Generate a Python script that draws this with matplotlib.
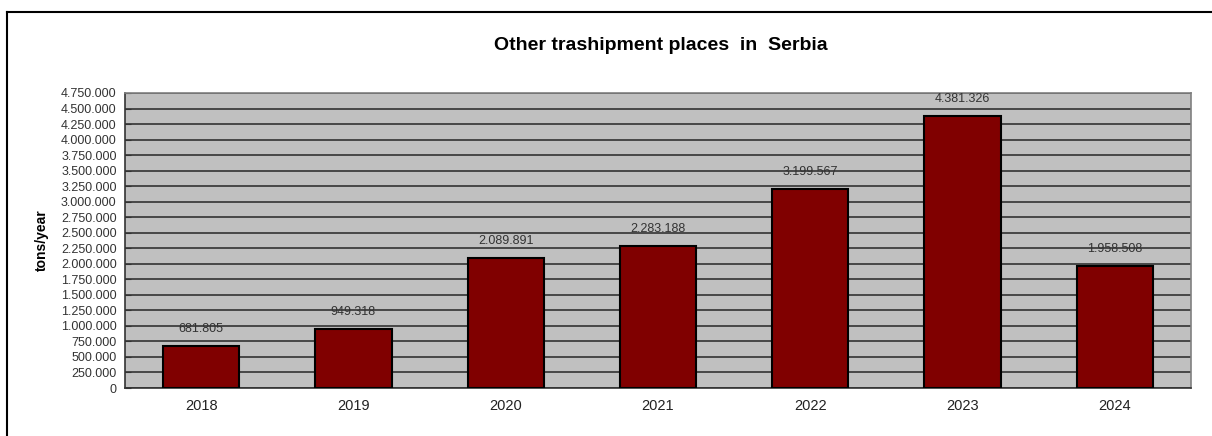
import matplotlib
matplotlib.use("Agg")
import matplotlib.pyplot as plt
from matplotlib.lines import Line2D

plt.rcParams['font.family'] = ['Liberation Sans', 'DejaVu Sans']

years = ["2018", "2019", "2020", "2021", "2022", "2023", "2024"]
tons = [681805, 949318, 2089891, 2283188, 3199567, 4381326, 1958508]
value_labels = ["681.805", "949.318", "2.089.891", "2.283.188", "3.199.567", "4.381.326", "1.958.508"]
ytick_vals = list(range(0, 4750001, 250000))


def dotted(v):
    return f"{v:,}".replace(",", ".")


fig = plt.figure(figsize=(12.12, 4.36), dpi=100)
ax = fig.add_axes([125 / 1212, 1 - 388 / 436, 1066 / 1212, 295 / 436])

ax.set_facecolor('#c0c0c0')
x = range(len(years))
ax.bar(x, tons, width=0.5, color='#800000', edgecolor='black', linewidth=1.5, zorder=3)

for i, (v, lab) in enumerate(zip(tons, value_labels)):
    ax.annotate(lab, (i, v), xytext=(0, 8), textcoords='offset points',
                ha='center', va='bottom', fontsize=9, color='#333333')

ax.set_xlim(-0.5, len(years) - 0.5)
ax.set_ylim(0, 4750000)
ax.set_yticks(ytick_vals)
ax.set_yticklabels([dotted(v) for v in ytick_vals], fontsize=9, color='#333333')
ax.set_xticks(list(x))
ax.set_xticklabels(years, fontsize=10.5, color='#222222')
ax.tick_params(axis='x', length=0, pad=8)
ax.tick_params(axis='y', length=4, direction='in', pad=6, color='#333333')
ax.yaxis.grid(True, color='#333333', linewidth=1.2, zorder=1)
ax.set_axisbelow(True)
for s in ax.spines.values():
    s.set_color('#808080')
    s.set_linewidth(1.2)
ax.spines['left'].set_color('#333333')
ax.spines['bottom'].set_color('#333333')

ax.set_ylabel('tons/year', fontsize=10, fontweight='bold')
ax.yaxis.set_label_coords(-76 / 1066, 0.5)

fig.text(661 / 1212, 1 - 46 / 436, 'Other trashipment places  in  Serbia',
         ha='center', va='center', fontsize=14, fontweight='bold')

# outer chart frame (left and top edges visible)
fig.add_artist(Line2D([7 / 1212, 7 / 1212], [0, 1 - 12 / 436], color='black', linewidth=1.5,
                      transform=fig.transFigure))
fig.add_artist(Line2D([7 / 1212, 1], [1 - 12 / 436, 1 - 12 / 436], color='black', linewidth=1.5,
                      transform=fig.transFigure))

fig.savefig('out.png', dpi=100)
